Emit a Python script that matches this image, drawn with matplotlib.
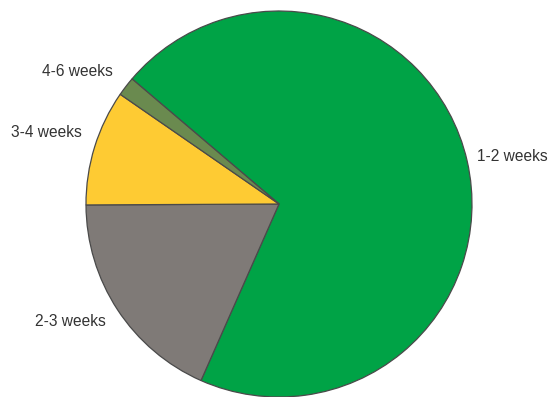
import matplotlib
matplotlib.use('Agg')
import matplotlib.pyplot as plt

# Share of cases by duration
labels = ['1-2 weeks', '2-3 weeks', '3-4 weeks', '4-6 weeks']
values = [70.4, 18.3, 9.7, 1.6]
colors = ['#00a346', '#7f7a77', '#fecb33', '#6a8a4f']

# label positions (data units, pie radius = 1)
label_xy = [(1.207, 0.244), (-1.083, -0.611), (-1.205, 0.368), (-1.044, 0.684)]

plt.rcParams['font.family'] = ['Liberation Sans', 'DejaVu Sans']

fig = plt.figure(figsize=(5.49, 3.97), dpi=100)
ax = fig.add_axes([0, 0, 1, 1])

ax.pie(values, colors=colors, startangle=139.6, counterclock=False,
       wedgeprops=dict(edgecolor='#4a4a4a', linewidth=0.9))

for lab, (x, y) in zip(labels, label_xy):
    ax.text(x, y, lab, ha='center', va='center', fontsize=11.2, color='#333333')

ax.set_xlim(-279 / 193, 270 / 193)
ax.set_ylim(-193 / 193, 204 / 193)
ax.axis('off')

fig.savefig('out.png', dpi=100)
